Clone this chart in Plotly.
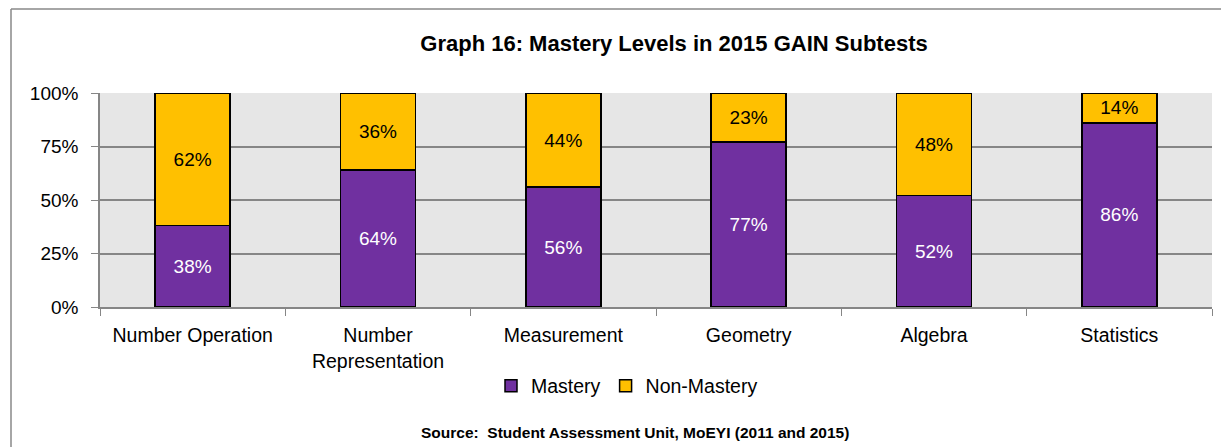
import plotly.graph_objects as go

categories = ["Number Operation", "Number<br>Representation", "Measurement", "Geometry", "Algebra", "Statistics"]
mastery = [38, 64, 56, 77, 52, 86]
non_mastery = [62, 36, 44, 23, 48, 14]
y_ticks = [0, 25, 50, 75, 100]
y_tick_labels = ["0%", "25%", "50%", "75%", "100%"]

# page body has an 8px default margin: lay out in window coordinates, shift by OFF
OFF = 8
WIN_W, WIN_H = 1229, 447
W, H = WIN_W - OFF, WIN_H - OFF
PL, PR, PT, PB = 100, 1212, 93, 307          # plot area in window pixels
L, R, T, B = PL - OFF, W - (PR - OFF), PT - OFF, H - (PB - OFF)
PW, PH = PR - PL, PB - PT

def px(x):
    return (x - PL) / PW

def py(y):
    return (PB - y) / PH

FONT = "Liberation Sans, Arial, sans-serif"
PURPLE = "#7030A0"
YELLOW = "#FFC000"
FS = 19.5

fig = go.Figure()
fig.add_trace(go.Bar(
    x=categories, y=mastery, name="Mastery",
    marker=dict(color=PURPLE, line=dict(color="black", width=1.5)),
    text=[f"{v}%" for v in mastery], textposition="inside", insidetextanchor="middle",
    textangle=0, textfont=dict(color="white", size=19, family=FONT),
))
fig.add_trace(go.Bar(
    x=categories, y=non_mastery, name="Non-Mastery",
    marker=dict(color=YELLOW, line=dict(color="black", width=1.5)),
    text=[f"{v}%" for v in non_mastery], textposition="inside", insidetextanchor="middle",
    textangle=0, textfont=dict(color="black", size=19, family=FONT),
))

fig.update_layout(
    width=W, height=H,
    barmode="stack", bargap=0.595,
    margin=dict(l=L, r=R, t=T, b=B, autoexpand=False),
    paper_bgcolor="white", plot_bgcolor="#E6E6E6",
    font=dict(family=FONT, color="black", size=FS),
    uniformtext=dict(minsize=19, mode="show"),
    title=dict(text="<b>Graph 16: Mastery Levels in 2015 GAIN Subtests</b>",
               x=(674 - OFF) / W, xanchor="center", xref="container",
               y=1 - (43 - OFF) / H, yanchor="middle", yref="container",
               font=dict(size=22, family=FONT, color="black")),
    showlegend=True,
    legend=dict(orientation="h", x=px(627), xanchor="center", y=py(386), yanchor="middle",
                font=dict(size=FS, family=FONT), traceorder="normal",
                itemwidth=30, tracegroupgap=0, bgcolor="rgba(0,0,0,0)"),
    xaxis=dict(tickson="boundaries", ticks="outside", ticklen=7, tickcolor="#868686",
               showline=True, linecolor="#868686", linewidth=1.5, showgrid=False,
               tickangle=0, tickfont=dict(size=FS, family=FONT), ticklabelstandoff=10,
               fixedrange=True),
    yaxis=dict(range=[0, 100], tickvals=y_ticks, ticktext=y_tick_labels,
               ticks="outside", ticklen=7, tickcolor="#868686",
               showline=True, linecolor="#868686", linewidth=1.5,
               showgrid=True, gridcolor="#868686", gridwidth=1.5, zeroline=False,
               tickfont=dict(size=19, family=FONT), ticklabelstandoff=9),
    annotations=[dict(text="<b>Source:  Student Assessment Unit, MoEYI (2011 and 2015)</b>",
                      x=px(635), y=py(432), xref="paper", yref="paper",
                      xanchor="center", yanchor="middle", showarrow=False,
                      font=dict(size=15.5, family=FONT, color="black"))],
    shapes=[
        dict(type="line", xref="paper", yref="paper", x0=px(11), x1=px(11), y0=py(9), y1=py(WIN_H + 5),
             line=dict(color="#888888", width=1.5)),
        dict(type="line", xref="paper", yref="paper", x0=px(11), x1=px(WIN_W + 5), y0=py(9), y1=py(9),
             line=dict(color="#888888", width=1.5)),
    ],
)

fig.write_html("out.html")
